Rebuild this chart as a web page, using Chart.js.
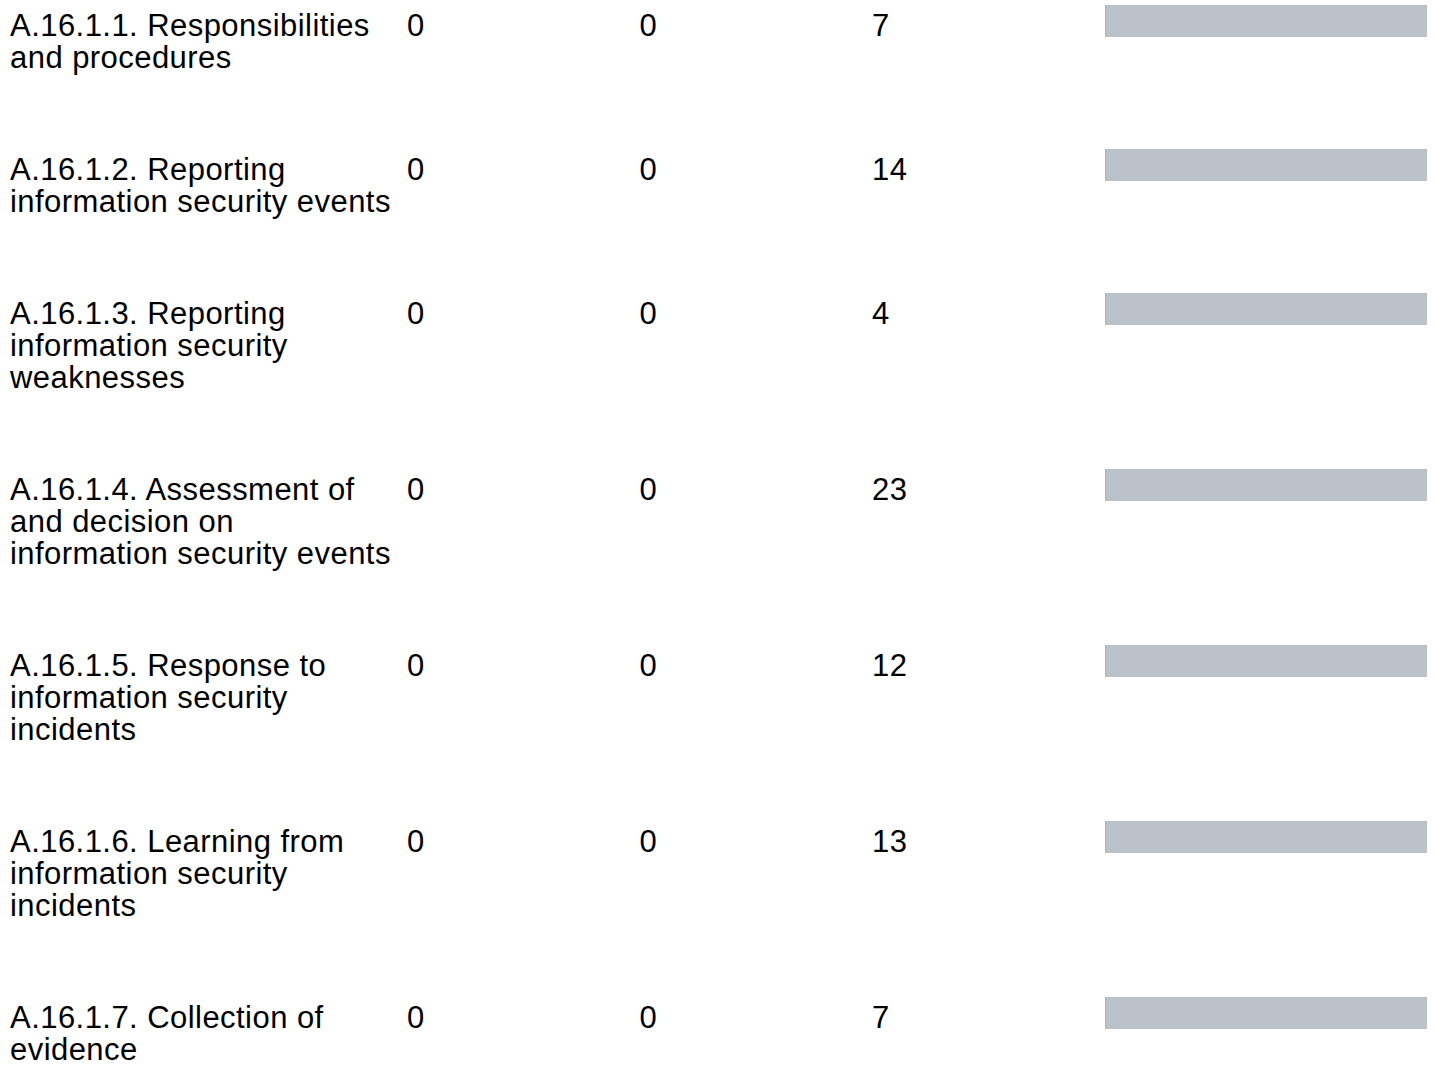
<!DOCTYPE html>
<html>
<head>
<meta charset="utf-8">
<script src="https://cdn.jsdelivr.net/npm/chart.js@4/dist/chart.umd.min.js"></script>
<style>
  body { margin: 0; background: #fff; font-family: "Liberation Sans", Arial, Helvetica, sans-serif; }
  #table { position: relative; width: 1436px; }
  .row { position: relative; }
  .cell { position: absolute; top: 10px; font-size: 31px; line-height: 32px; letter-spacing: 0.45px; color: #000; }
  .label { left: 10px; width: 386px; }
  .bar { position: absolute; top: 5px; left: 1105px; }
</style>
</head>
<body>
<div id="table"></div>
<script>
const controls = [
  'A.16.1.1. Responsibilities and procedures',
  'A.16.1.2. Reporting information security events',
  'A.16.1.3. Reporting information security weaknesses',
  'A.16.1.4. Assessment of and decision on information security events',
  'A.16.1.5. Response to information security incidents',
  'A.16.1.6. Learning from information security incidents',
  'A.16.1.7. Collection of evidence'
]
const implemented = [0, 0, 0, 0, 0, 0, 0]
const partial = [0, 0, 0, 0, 0, 0, 0]
const notImplemented = [7, 14, 4, 23, 12, 13, 7]

const colX = [407, 639.5, 872]
const table = document.getElementById('table')

controls.forEach((name, i) => {
  const row = document.createElement('div')
  row.className = 'row'
  table.append(row)

  const label = document.createElement('div')
  label.className = 'cell label'
  label.textContent = name
  row.append(label)

  const values = [implemented[i], partial[i], notImplemented[i]]
  values.forEach((v, c) => {
    const cell = document.createElement('div')
    cell.className = 'cell'
    cell.style.left = colX[c] + 'px'
    cell.textContent = v
    row.append(cell)
  })

  const lines = Math.round(label.getBoundingClientRect().height / 32)
  row.style.height = (lines * 32 + 80) + 'px'

  const canvas = document.createElement('canvas')
  canvas.className = 'bar'
  canvas.width = 322
  canvas.height = 32
  row.append(canvas)

  const total = implemented[i] + partial[i] + notImplemented[i]
  new Chart(canvas.getContext('2d'), {
    type: 'bar',
    data: {
      labels: [name],
      datasets: [
        { label: 'Implemented', data: [implemented[i]], backgroundColor: 'rgb(92, 184, 92)' },
        { label: 'Partial', data: [partial[i]], backgroundColor: 'rgb(240, 173, 78)' },
        { label: 'Not implemented', data: [notImplemented[i]], backgroundColor: 'rgb(187, 194, 202)' }
      ]
    },
    options: {
      indexAxis: 'y',
      responsive: false,
      animation: false,
      layout: { padding: 0 },
      datasets: { bar: { barPercentage: 1, categoryPercentage: 1, borderWidth: 0 } },
      scales: {
        x: { stacked: true, min: 0, max: total, display: false },
        y: { stacked: true, display: false }
      },
      plugins: { legend: { display: false }, tooltip: { enabled: false } }
    }
  })
})
</script>
</body>
</html>
